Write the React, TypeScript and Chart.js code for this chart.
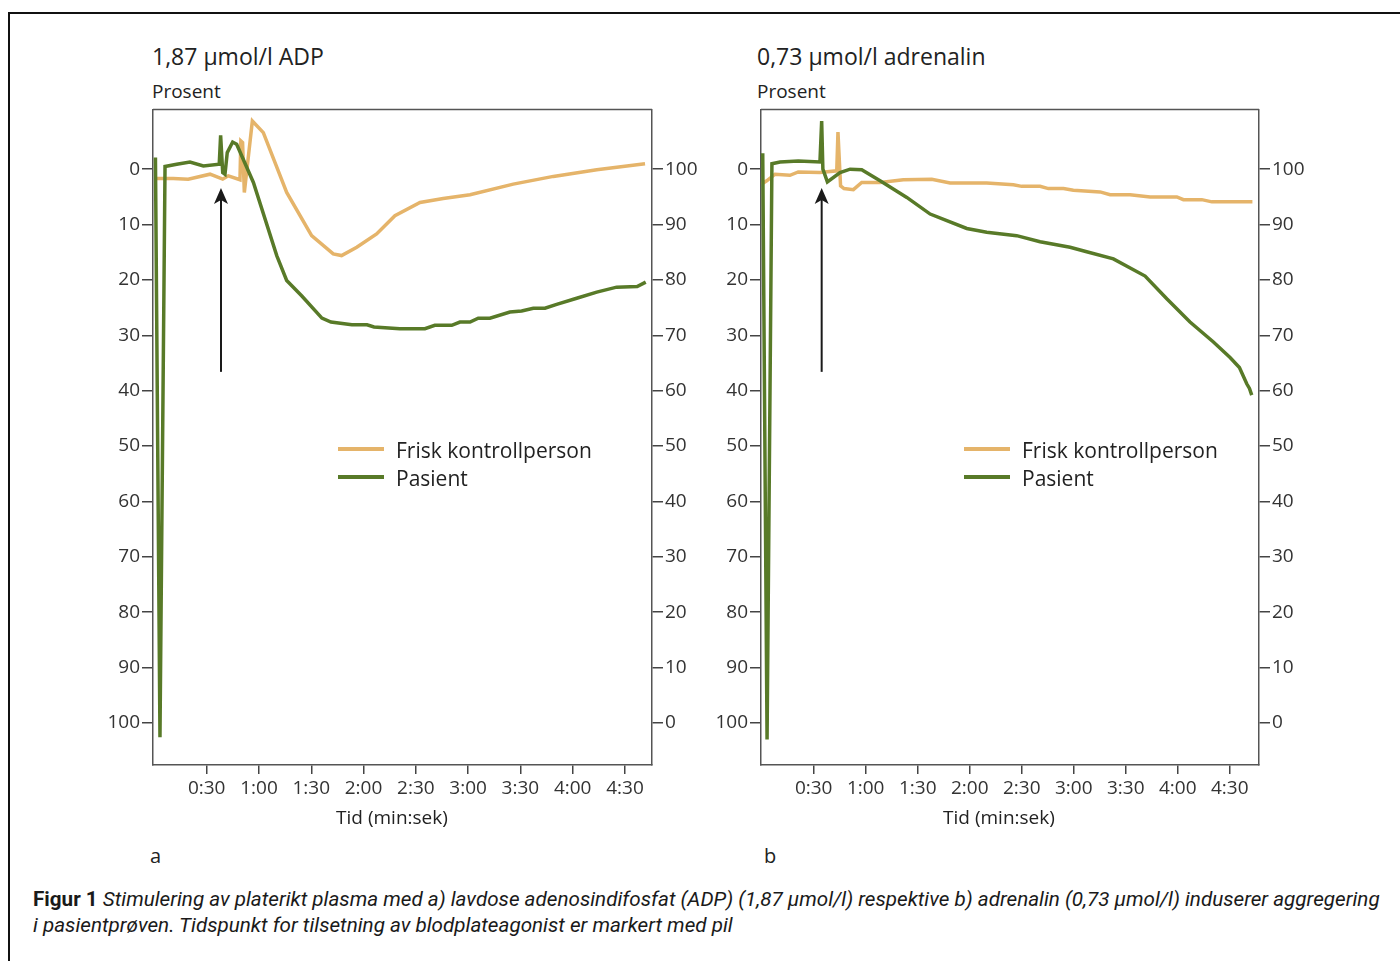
import React, { useEffect, useLayoutEffect, useRef, useState } from "react";
import { Chart, registerables } from "chart.js";
Chart.register(...registerables);

const FONT = "'Open Sans', 'Noto Sans', 'DejaVu Sans', sans-serif";
const ORANGE = "#E5B46A";
const GREEN = "#587A28";
const TEXT = "#222";

// ---------- data ----------
const seriesNames = ["Frisk kontrollperson", "Pasient"];
const panelTitles = ["1,87 µmol/l ADP", "0,73 µmol/l adrenalin"];
const panelLetters = ["a", "b"];
const xTickSeconds = [30, 60, 90, 120, 150, 180, 210, 240, 270];
const leftTickValues = [0, 10, 20, 30, 40, 50, 60, 70, 80, 90, 100];
const rightTickValues = [0, 10, 20, 30, 40, 50, 60, 70, 80, 90, 100];

// Panel a (ADP) - healthy control
const adpControlTime = [0.3, 10.8, 19.4, 31.9, 39.2, 42.4, 49.1, 49.6, 50.6, 51.6, 56.2, 62.5, 75.9, 90.2, 102.6, 107.4, 116.1, 127.5, 138, 152.4, 165.7, 181.1, 205.9, 228.9, 253.8, 281.5];
const adpControlValue = [1.7, 1.7, 1.8, 0.9, 1.8, 1.2, 1.9, -5.1, -4.8, 4.2, -8.7, -6.6, 4.2, 12.0, 15.3, 15.6, 14.1, 11.7, 8.4, 6.0, 5.3, 4.6, 2.7, 1.3, 0.1, -1.0];
// Panel a (ADP) - patient
const adpPatientTime = [0.6, 3.2, 6.1, 12.8, 20.4, 28.1, 37.2, 38.0, 39.2, 40.5, 41.8, 44.9, 47.2, 56.8, 70.2, 75.9, 84.6, 96.1, 101.3, 113.3, 122, 126, 140.8, 155.2, 160.9, 170.6, 175.3, 181.1, 185.8, 192.5, 204, 210.7, 217.4, 224.1, 230.8, 242.3, 253.8, 265.2, 277, 281.9];
const adpPatientValue = [-2.1, 102.6, -0.5, -0.9, -1.3, -0.6, -0.9, -6.1, 0.6, 0.9, -3.0, -4.9, -4.5, 2.4, 15.6, 20.1, 22.9, 26.9, 27.6, 28.1, 28.1, 28.5, 28.8, 28.8, 28.2, 28.2, 27.6, 27.6, 26.9, 26.9, 25.8, 25.6, 25.1, 25.1, 24.4, 23.3, 22.2, 21.3, 21.2, 20.4];

// Panel b (adrenalin) - healthy control
const adrControlTime = [0, 2.9, 7.7, 16.3, 21.1, 33.6, 43.3, 44.0, 45.5, 47.5, 52.9, 57.7, 68.3, 81.7, 98.1, 108.7, 129.8, 145.2, 150, 160.6, 165.4, 174.1, 179.8, 195.2, 201, 212.5, 224.1, 239.5, 243.3, 253.9, 259.7, 283.1];
const adrControlValue = [2.7, 2.1, 0.9, 1.1, 0.5, 0.6, 0.3, -6.7, 3.0, 3.5, 3.7, 2.4, 2.4, 1.9, 1.8, 2.5, 2.5, 2.8, 3.1, 3.1, 3.5, 3.5, 3.8, 4.1, 4.6, 4.6, 5.0, 5.0, 5.5, 5.5, 5.9, 5.9];
// Panel b (adrenalin) - patient
const adrPatientTime = [0.6, 3.1, 5.9, 10.6, 21.1, 33.6, 34.6, 35.3, 37.9, 45.2, 51.0, 57.7, 68.3, 83.7, 97.2, 106.8, 118.3, 129.8, 147.1, 160.6, 177.9, 187.5, 202.9, 221.2, 233.7, 247.1, 260.6, 270.2, 275.6, 279.9, 281.4, 282.7];
const adrPatientValue = [-2.9, 103, -1.0, -1.3, -1.5, -1.3, -8.7, 0.0, 2.3, 0.6, 0.0, 0.1, 2.1, 5.1, 8.1, 9.3, 10.7, 11.4, 12.0, 13.1, 14.1, 14.9, 16.2, 19.3, 23.4, 27.6, 31.2, 34.0, 35.8, 38.8, 39.6, 40.8];

// agonist addition (arrow): time in seconds, arrow from/to percent
const arrowTimes = [38.2, 34.6];
const arrowFrom = 36.6;
const arrowTo = 3.4;

const fmtTime = (v: number) => `${Math.floor(v / 60)}:${String(Math.round(v % 60)).padStart(2, "0")}`;

function zip(t: number[], v: number[]) {
  return t.map((x, i) => ({ x, y: v[i] }));
}

function makePlugin(arrowT: number) {
  return {
    id: "frameArrow",
    afterDraw(chart: any) {
      const { ctx, chartArea: ca, scales } = chart;
      ctx.save();
      ctx.strokeStyle = "#555";
      ctx.lineWidth = 1.5;
      ctx.beginPath();
      ctx.moveTo(ca.left, ca.top);
      ctx.lineTo(ca.right, ca.top);
      ctx.stroke();
      const x = scales.x.getPixelForValue(arrowT);
      const y0 = scales.y.getPixelForValue(arrowFrom);
      const y1 = scales.y.getPixelForValue(arrowTo);
      ctx.strokeStyle = "#1a1a1a";
      ctx.fillStyle = "#1a1a1a";
      ctx.lineWidth = 2;
      ctx.beginPath();
      ctx.moveTo(x, y0);
      ctx.lineTo(x, y1 + 10);
      ctx.stroke();
      ctx.beginPath();
      ctx.moveTo(x, y1);
      ctx.lineTo(x + 7, y1 + 16);
      ctx.lineTo(x, y1 + 12);
      ctx.lineTo(x - 7, y1 + 16);
      ctx.closePath();
      ctx.fill();
      ctx.restore();
    },
  };
}

interface PanelProps {
  left: number;
  width: number;
  leftAxisW: number;
  xMin: number;
  xMax: number;
  ctrl: { x: number; y: number }[];
  pat: { x: number; y: number }[];
  arrowT: number;
}

function Panel(p: PanelProps) {
  const ref = useRef<HTMLCanvasElement>(null);
  useEffect(() => {
    const tickFont = { family: FONT, size: 19 };
    const gridCommon = { drawOnChartArea: false, drawTicks: true, color: "#444", lineWidth: 1.5 };
    const border = { display: true, color: "#555", width: 1.5 };
    const chart = new Chart(ref.current!, {
      type: "line",
      data: {
        datasets: [
          { label: seriesNames[1], data: p.pat, borderColor: GREEN, borderWidth: 3.5, pointRadius: 0, tension: 0, fill: false },
          { label: seriesNames[0], data: p.ctrl, borderColor: ORANGE, borderWidth: 3.5, pointRadius: 0, tension: 0, fill: false },
        ],
      },
      options: {
        responsive: false,
        animation: false,
        layout: { padding: { top: 10, left: 0, right: 0, bottom: 0 } },
        plugins: { legend: { display: false }, tooltip: { enabled: false } },
        scales: {
          x: {
            type: "linear",
            position: "bottom",
            min: p.xMin,
            max: p.xMax,
            grid: { ...gridCommon, tickLength: 9 },
            border,
            ticks: { color: "#333", font: tickFont, padding: 3, maxRotation: 0, autoSkip: false, callback: (v: any) => fmtTime(Number(v)) },
            afterBuildTicks: (s: any) => { s.ticks = xTickSeconds.map((v) => ({ value: v })); },
            afterFit: (s: any) => { s.height = 61; },
          },
          y: {
            type: "linear",
            position: "left",
            reverse: true,
            min: -10.8,
            max: 107.6,
            grid: { ...gridCommon, tickLength: 11 },
            border,
            ticks: { color: "#333", font: tickFont, padding: 2, callback: (v: any) => String(v) },
            afterBuildTicks: (s: any) => { s.ticks = leftTickValues.map((v) => ({ value: v })); },
            afterFit: (s: any) => { s.width = p.leftAxisW; },
          },
          y2: {
            type: "linear",
            position: "right",
            min: -7.6,
            max: 110.8,
            grid: { ...gridCommon, tickLength: 11 },
            border,
            ticks: { color: "#333", font: tickFont, padding: 2, callback: (v: any) => String(v) },
            afterBuildTicks: (s: any) => { s.ticks = rightTickValues.map((v) => ({ value: v })); },
            afterFit: (s: any) => { s.width = 48; },
          },
        },
      } as any,
      plugins: [makePlugin(p.arrowT)],
    });
    return () => chart.destroy();
  }, []);
  return (
    <canvas
      ref={ref}
      width={p.width}
      height={730}
      style={{ position: "absolute", left: p.left, top: 96, width: p.width, height: 730 }}
    />
  );
}

function Txt(props: { x: number; cy: number; size: number; children: any; weight?: number; center?: boolean }) {
  const { x, cy, size, children, weight = 400, center } = props;
  return (
    <div
      style={{
        position: "absolute",
        left: center ? x - 300 : x,
        width: center ? 600 : undefined,
        textAlign: center ? "center" : "left",
        top: cy - size * 0.6,
        fontSize: size,
        lineHeight: 1.2,
        fontFamily: FONT,
        fontWeight: weight,
        color: TEXT,
        whiteSpace: "nowrap",
      }}
    >
      {children}
    </div>
  );
}

function Legend({ x, y }: { x: number; y: number }) {
  const rows = [
    { name: seriesNames[0], color: ORANGE, cy: y },
    { name: seriesNames[1], color: GREEN, cy: y + 28 },
  ];
  return (
    <>
      {rows.map((r) => (
        <React.Fragment key={r.name}>
          <div style={{ position: "absolute", left: x, top: r.cy - 2, width: 46, height: 4, background: r.color }} />
          <Txt x={x + 58} cy={r.cy + 2} size={21}>{r.name}</Txt>
        </React.Fragment>
      ))}
    </>
  );
}

function Caption() {
  const line1 = useRef<HTMLDivElement>(null);
  const [scale, setScale] = useState(1);
  useLayoutEffect(() => {
    const w = line1.current!.scrollWidth;
    if (w > 0) setScale(1347 / w);
  }, []);
  const base: React.CSSProperties = {
    position: "absolute",
    left: 33,
    fontFamily: "Roboto, 'Open Sans', sans-serif",
    fontSize: 20,
    lineHeight: 1.2,
    color: "#1a1a1a",
    whiteSpace: "nowrap",
    transformOrigin: "0 50%",
    transform: `scaleX(${scale})`,
  };
  return (
    <>
      <div ref={line1} style={{ ...base, top: 899 - 12 }}>
        <span style={{ fontWeight: 700 }}>Figur 1</span>{" "}
        <span style={{ fontStyle: "italic" }}>
          Stimulering av platerikt plasma med a) lavdose adenosindifosfat (ADP) (1,87 µmol/l) respektive b) adrenalin (0,73 µmol/l) induserer aggregering
        </span>
      </div>
      <div style={{ ...base, top: 925 - 12, fontStyle: "italic" }}>
        i pasientprøven. Tidspunkt for tilsetning av blodplateagonist er markert med pil
      </div>
    </>
  );
}

export default function App() {
  return (
    <div style={{ position: "fixed", left: 0, top: 0, width: 1400, height: 961, overflow: "hidden", background: "#fff" }}>
      <div style={{ position: "absolute", left: 8, top: 12, width: 1430, height: 1000, border: "2px solid #111", boxSizing: "border-box" }} />
      <Txt x={152} cy={57} size={23}>{panelTitles[0]}</Txt>
      <Txt x={757} cy={57} size={23}>{panelTitles[1]}</Txt>
      <Txt x={152} cy={91} size={19}>Prosent</Txt>
      <Txt x={757} cy={91} size={19}>Prosent</Txt>
      <Panel left={88} width={612} leftAxisW={65} xMin={-0.8} xMax={285.5}
        ctrl={zip(adpControlTime, adpControlValue)} pat={zip(adpPatientTime, adpPatientValue)} arrowT={arrowTimes[0]} />
      <Panel left={700} width={607} leftAxisW={61} xMin={-0.4} xMax={286.9}
        ctrl={zip(adrControlTime, adrControlValue)} pat={zip(adrPatientTime, adrPatientValue)} arrowT={arrowTimes[1]} />
      <Legend x={338} y={449} />
      <Legend x={964} y={449} />
      <Txt x={392} cy={817} size={19} center>Tid (min:sek)</Txt>
      <Txt x={999} cy={817} size={19} center>Tid (min:sek)</Txt>
      <Txt x={150} cy={856} size={20}>{panelLetters[0]}</Txt>
      <Txt x={764} cy={856} size={20}>{panelLetters[1]}</Txt>
      <Caption />
    </div>
  );
}
